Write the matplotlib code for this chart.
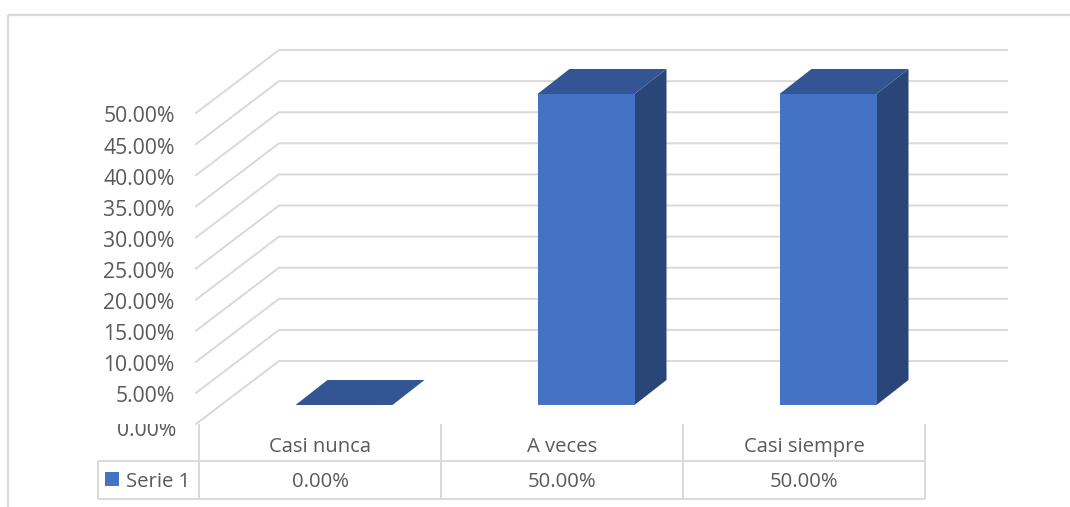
#!/usr/bin/env python

# Grafico de barras 3D (estilo Excel) con tabla de datos debajo

import matplotlib
matplotlib.use("Agg")
import matplotlib.pyplot as plt
from matplotlib.patches import Polygon, Rectangle

categories = ["Casi nunca", "A veces", "Casi siempre"]
series_name = "Serie 1"
values = [0.0, 50.0, 50.0]
axis_ticks = [0, 5, 10, 15, 20, 25, 30, 35, 40, 45, 50]

W, H = 1070, 507
GRID = "#D9D9D9"
TEXT = "#595959"
FRONT = "#4472C4"
TOP = "#335593"
SIDE = "#2A4679"
FS = 15.2
FS_TABLE = 14.6

# escala: una categoria = 242 px, 1 % = 6.22 px, origen en la base de las barras
X0, Y0 = 199.0, 405.0
SX, SY = 242.0, 6.22


def px(x):
    return (x - X0) / SX


def py(y):
    return (Y0 - y) / SY


fig = plt.figure(figsize=(W / 100, H / 100), dpi=100)
ax = fig.add_axes([0, 0, 1, 1])
ax.set_xlim(px(0), px(W))
ax.set_ylim(py(H), py(0))
ax.axis("off")

plt.rcParams["font.family"] = ["Open Sans", "DejaVu Sans"]


def line(x1, y1, x2, y2, lw=1.4):
    ax.plot([px(x1), px(x2)], [py(y1), py(y2)], color=GRID, lw=lw,
            solid_capstyle="butt", solid_joinstyle="miter", zorder=1)


# marco del grafico
line(7.5, 14.5, W, 14.5, 1.6)
line(7.5, 14.5, 7.5, H, 1.6)

# lineas de la cuadricula: suelo lateral + pared del fondo
floor_front = py(424)
floor_back = py(361)
for tick in axis_ticks:
    ax.plot([px(196), px(279), px(1007)],
            [floor_front + tick, floor_back + tick, floor_back + tick],
            color=GRID, lw=1.4, solid_joinstyle="miter", zorder=1)

# etiquetas del eje
for tick in axis_ticks[1:]:
    ax.text(px(174.5), floor_front + tick - 4 / SY, f"{tick:.2f}%",
            ha="right", va="center", color=TEXT, fontsize=FS, zorder=3)
zero = ax.text(px(176.5), py(431), f"{axis_ticks[0]:.2f}%", ha="right", va="center",
               color=TEXT, fontsize=FS, zorder=3)
zero.set_clip_path(Rectangle((px(90), py(H)), px(190) - px(90), py(423.5) - py(H),
                             transform=ax.transData))
zero.set_clip_on(True)

# barras: centradas en la profundidad, desplazadas respecto a la celda de la tabla
bar_w = 97 / SX
shift = 24 / SX
dx = 32 / SX
dy = 25 / SY
for i, v in enumerate(values):
    left = i + 0.5 - bar_w / 2 + shift
    right = left + bar_w
    ax.add_patch(Polygon([(right, 0), (right + dx, dy), (right + dx, v + dy), (right, v)],
                         facecolor=SIDE, edgecolor="none", zorder=2))
    ax.add_patch(Polygon([(left, v), (right, v), (right + dx, v + dy), (left + dx, v + dy)],
                         facecolor=TOP, edgecolor="none", zorder=2))
    if v > 0:
        ax.add_patch(Rectangle((left, 0), bar_w, v, facecolor=FRONT, edgecolor="none", zorder=2))

# tabla de datos
line(98, 461, 925, 461)
line(98, 499, 925, 499)
line(98, 461, 98, 499)
for k in range(len(categories) + 1):
    xk = X0 + k * SX
    line(xk, 424, xk, 499)

for i, cat in enumerate(categories):
    ax.text(i + 0.5, py(447), cat, ha="center", va="center", color=TEXT, fontsize=FS_TABLE)
    ax.text(i + 0.5, py(482), f"{values[i]:.2f}%", ha="center", va="center", color=TEXT, fontsize=FS_TABLE)

ax.add_patch(Rectangle((px(105), py(486)), 14 / SX, 14 / SY, facecolor=FRONT, edgecolor="none"))
ax.text(px(126), py(482), series_name, ha="left", va="center", color=TEXT, fontsize=FS_TABLE)

fig.savefig("out.png", dpi=100)
